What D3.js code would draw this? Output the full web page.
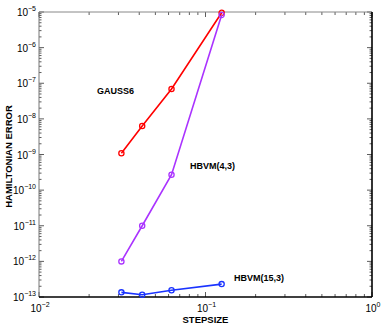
<!DOCTYPE html>
<html>
<head>
<meta charset="utf-8">
<script src="https://cdn.jsdelivr.net/npm/d3@7"></script>
<style>
body { margin: 0; background: #fff; }
text { font-family: "Liberation Sans", Arial, sans-serif; }
</style>
</head>
<body>
<div id="chart"></div>
<script>
// step sizes and hamiltonian errors
var stepsizes = [1/32, 1/24, 1/16, 1/8];
var gauss6 = [1.08e-9, 6.3e-9, 6.9e-8, 9.5e-6];
var hbvm43 = [1.0e-12, 1.0e-11, 2.7e-10, 8.2e-6];
var hbvm153 = [1.35e-13, 1.16e-13, 1.55e-13, 2.3e-13];
var seriesNames = ["GAUSS6", "HBVM(4,3)", "HBVM(15,3)"];
var xTickExps = [-2, -1, 0];
var yTickExps = [-13, -12, -11, -10, -9, -8, -7, -6, -5];

var W = 382, H = 327;
var margin = {top: 12, left: 39},
    width = 372 - margin.left,
    height = 297 - margin.top;

var svg = d3.select("#chart").append("svg")
    .attr("width", W)
    .attr("height", H)
    .append("g")
    .attr("transform", "translate(" + margin.left + "," + margin.top + ")");

var x = d3.scaleLog().domain([1e-2, 1]).range([0, width]);
var y = d3.scaleLog().domain([1e-13, 1e-5]).range([height, 0]);

// minor + major ticks, inward on all four sides
function decadeTicks(lo, hi) {
    var t = [];
    for (var e = lo; e < hi; e++) {
        for (var m = 1; m < 10; m++) t.push({v: m * Math.pow(10, e), major: m === 1});
    }
    t.push({v: Math.pow(10, hi), major: true});
    return t;
}
var xt = decadeTicks(-2, 0), yt = decadeTicks(-13, -5);

var ticks = svg.append("g").attr("stroke", "#333").attr("stroke-width", 0.8);
xt.forEach(function (t) {
    var len = t.major ? 5 : 3, px = x(t.v);
    ticks.append("line").attr("x1", px).attr("x2", px).attr("y1", height).attr("y2", height - len);
    ticks.append("line").attr("x1", px).attr("x2", px).attr("y1", 0).attr("y2", len);
});
yt.forEach(function (t) {
    var len = t.major ? 5 : 2.5, py = y(t.v);
    ticks.append("line").attr("y1", py).attr("y2", py).attr("x1", 0).attr("x2", len);
    ticks.append("line").attr("y1", py).attr("y2", py).attr("x1", width).attr("x2", width - len);
});

// frame: top/left light, bottom/right dark
svg.append("line").attr("x1", 0).attr("x2", width).attr("y1", 0).attr("y2", 0)
    .attr("stroke", "#888").attr("stroke-width", 1);
svg.append("line").attr("x1", 0).attr("x2", 0).attr("y1", 0).attr("y2", height)
    .attr("stroke", "#777").attr("stroke-width", 1);
svg.append("line").attr("x1", 0).attr("x2", width).attr("y1", height).attr("y2", height)
    .attr("stroke", "#000").attr("stroke-width", 1.6);
svg.append("line").attr("x1", width).attr("x2", width).attr("y1", 0).attr("y2", height)
    .attr("stroke", "#000").attr("stroke-width", 1.6);

// tick labels 10^e
function powLabel(g, e, px, py, anchor) {
    var t = g.append("text").attr("x", px).attr("y", py)
        .attr("text-anchor", anchor).attr("font-size", 10).attr("fill", "#000");
    t.append("tspan").text("10");
    t.append("tspan").attr("dy", -5).attr("font-size", 7)
        .text(e < 0 ? "\u2212" + Math.abs(e) : String(e));
}
var labels = svg.append("g");
yTickExps.forEach(function (e) {
    powLabel(labels, e, -3, y(Math.pow(10, e)) + 4, "end");
});
xTickExps.forEach(function (e) {
    powLabel(labels, e, x(Math.pow(10, e)) + 1, height + 15, "middle");
});

// series
var data = [
    {name: seriesNames[0], values: gauss6, color: "#ff0000", lx: 58, ly: 82},
    {name: seriesNames[1], values: hbvm43, color: "#aa33ff", lx: 151, ly: 157},
    {name: seriesNames[2], values: hbvm153, color: "#1a33ff", lx: 195, ly: 269}
];
var line = d3.line()
    .x(function (d) { return x(d.s); })
    .y(function (d) { return y(d.v); });

data.forEach(function (sr) {
    var pts = stepsizes.map(function (s, i) { return {s: s, v: sr.values[i]}; });
    svg.append("path").datum(pts)
        .attr("fill", "none").attr("stroke", sr.color).attr("stroke-width", 1.6)
        .attr("d", line);
    svg.selectAll(null).data(pts).enter().append("circle")
        .attr("cx", function (d) { return x(d.s); })
        .attr("cy", function (d) { return y(d.v); })
        .attr("r", 2.6)
        .attr("fill", "none").attr("stroke", sr.color).attr("stroke-width", 1.3);
    svg.append("text").attr("x", sr.lx).attr("y", sr.ly)
        .attr("font-size", 9).attr("font-weight", "bold").attr("fill", "#000")
        .text(sr.name);
});

// axis titles
svg.append("text")
    .attr("x", x(0.1)).attr("y", height + 26)
    .attr("text-anchor", "middle").attr("font-size", 9.5).attr("font-weight", "bold")
    .text("STEPSIZE");
svg.append("text")
    .attr("transform", "translate(" + (-27) + "," + (height / 2 + 2) + ") rotate(-90)")
    .attr("text-anchor", "middle").attr("font-size", 9.5).attr("font-weight", "bold")
    .text("HAMILTONIAN ERROR");
</script>
</body>
</html>
